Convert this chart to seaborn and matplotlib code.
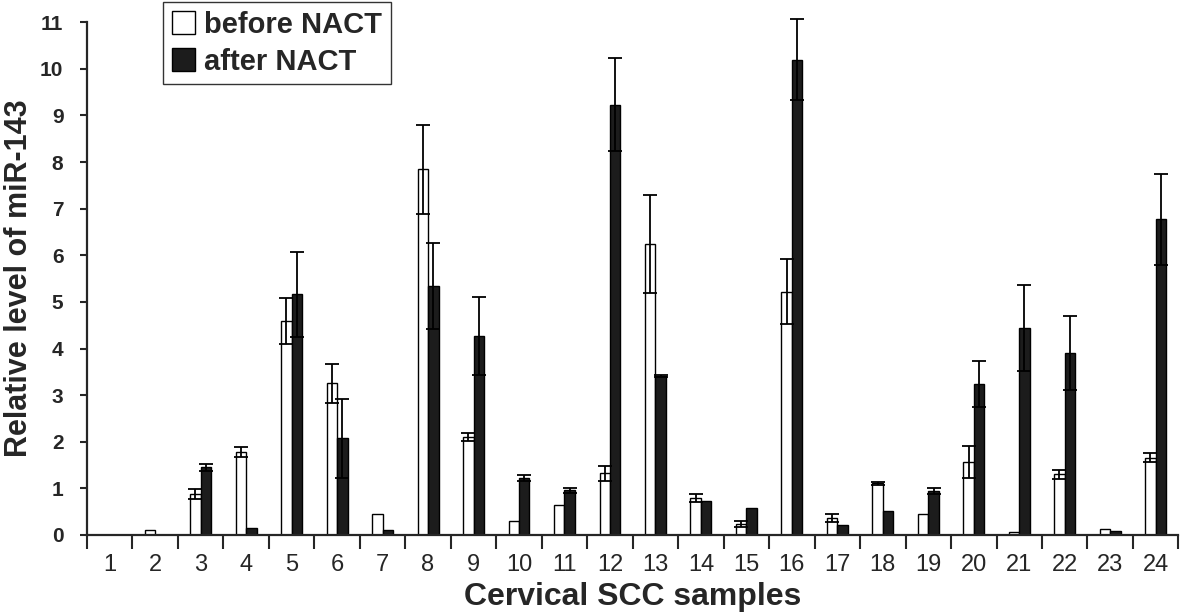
import numpy as np
import pandas as pd
import matplotlib
matplotlib.use("Agg")
import matplotlib.pyplot as plt
import seaborn as sns
from matplotlib.patches import Patch

samples = [str(i) for i in range(1, 25)]
before = [0, 0.11, 0.88, 1.78, 4.59, 3.25, 0.46, 7.84, 2.10, 0.31, 0.64, 1.32,
          6.24, 0.80, 0.24, 5.22, 0.37, 1.11, 0.46, 1.57, 0.06, 1.30, 0.12, 1.66]
before_err = [0, 0, 0.10, 0.10, 0.49, 0.41, 0, 0.96, 0.08, 0, 0, 0.16,
              1.05, 0.09, 0.06, 0.69, 0.09, 0.03, 0, 0.34, 0, 0.09, 0, 0.10]
after = [0, 0, 1.45, 0.15, 5.16, 2.07, 0.11, 5.34, 4.27, 1.22, 0.96, 9.23,
         3.41, 0.73, 0.57, 10.19, 0.21, 0.52, 0.94, 3.24, 4.44, 3.90, 0.08, 6.77]
after_err = [0, 0, 0.08, 0, 0.92, 0.85, 0, 0.93, 0.84, 0.07, 0.05, 1.00,
             0.02, 0, 0, 0.87, 0, 0, 0.07, 0.49, 0.92, 0.80, 0, 0.98]
groups = ["before NACT", "after NACT"]
colors = {"before NACT": "white", "after NACT": "#1c1c1c"}

df = pd.DataFrame({
    "sample": samples * 2,
    "value": before + after,
    "group": [groups[0]] * 24 + [groups[1]] * 24,
})

sns.set_style("ticks")
plt.rcParams["font.family"] = ["Liberation Sans", "DejaVu Sans"]

fig = plt.figure(figsize=(12, 6.16), dpi=100)
ax = fig.add_axes([0.0725, 0.1315, 0.9095, 0.8325])

width = 0.46
sns.barplot(data=df, x="sample", y="value", hue="group", order=samples,
            hue_order=groups, palette=colors, edgecolor="black", linewidth=1,
            width=width, errorbar=None, legend=False, ax=ax)

# error bars, symmetric, centred on each bar
pos = np.arange(len(samples))
for vals, errs, off in [(before, before_err, -width / 4), (after, after_err, width / 4)]:
    for x, v, e in zip(pos, vals, errs):
        if e > 0:
            ax.errorbar(x + off, v, yerr=e, fmt="none", ecolor="black",
                        elinewidth=1.3, capsize=5, capthick=1.3, clip_on=False)

ax.set_xlim(-0.5, len(samples) - 0.5)
ax.set_ylim(0, 11)
ax.set_yticks(range(0, 12))
ax.set_yticklabels([str(i) for i in range(0, 12)], fontsize=15, fontweight="bold")

ax.set_xticks(pos)
ax.set_xticklabels(samples, fontsize=17)
ax.tick_params(axis="x", length=0, pad=14)
ax.set_xticks(np.arange(-0.5, len(samples)), minor=True)
ax.tick_params(axis="x", which="minor", length=10, width=1.5, direction="out")
ax.tick_params(axis="y", length=5, width=1.5, direction="out", pad=12)

for s in ["left", "bottom"]:
    ax.spines[s].set_linewidth(1.6)
sns.despine(ax=ax)

ax.set_ylabel("Relative level of miR-143", fontsize=22, fontweight="bold", labelpad=4)
ax.set_xlabel("Cervical SCC samples", fontsize=23, fontweight="bold", labelpad=4)

handles = [Patch(facecolor=colors[g], edgecolor="black", linewidth=1) for g in groups]
leg = ax.legend(handles, groups, loc="upper left", bbox_to_anchor=(163 / 1200, 1 - 2 / 616),
                bbox_transform=fig.transFigure, frameon=True, fancybox=False,
                prop={"size": 21, "weight": "bold"}, handlelength=0.8, handleheight=0.8,
                handletextpad=0.3, borderpad=0.3, labelspacing=0.3, borderaxespad=0)
leg.get_frame().set_edgecolor("black")
leg.get_frame().set_linewidth(1)

fig.savefig("out.png", dpi=100)
